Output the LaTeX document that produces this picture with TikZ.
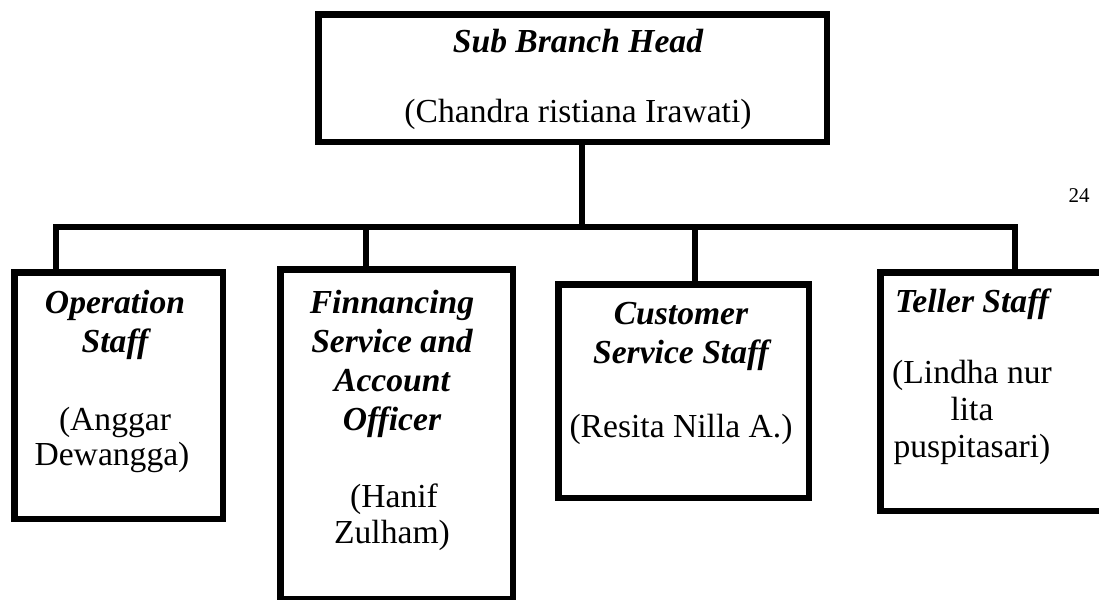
\documentclass[tikz,border=0pt]{standalone}
\usepackage{fontspec}
\setmainfont{Liberation Serif}
\begin{document}
\begin{tikzpicture}[x=1pt,y=-1pt,
  box/.style={draw=black, line width=6.5pt, rectangle, inner sep=0pt, anchor=north west},
  ttl/.style={font=\fontsize{33.6}{39}\selectfont\bfseries\itshape, anchor=base, inner sep=0pt},
  nm/.style={font=\fontsize{33.6}{39}\selectfont, anchor=base, inner sep=0pt},
  link/.style={draw=black, line width=6.5pt}]
\useasboundingbox (0,0) rectangle (1099,599);
\clip (0,0) rectangle (1099,599);
% boxes
\node[box, minimum width=508.5pt, minimum height=127.5pt] (top) at (315.25,11.25) {};
\node[box, minimum width=208.5pt, minimum height=246.5pt] (op) at (11.25,269.25) {};
\node[box, minimum width=232.5pt, minimum height=329.5pt] (fin) at (277.25,266.25) {};
\node[box, minimum width=250.5pt, minimum height=213.5pt] (cust) at (555.25,281.25) {};
\node[box, minimum width=240pt, minimum height=238.5pt] (tel) at (877.25,269.25) {};
% connectors
\coordinate (bus) at (582,227);
\coordinate (jop) at (56,227);
\coordinate (jfin) at (366,227);
\coordinate (jcust) at (695,227);
\coordinate (jtel) at (1015,227);
\draw[link] (top.south -| bus) -- (bus);
\draw[link] (op.north -| jop) -- (jop) -- (jtel) -- (tel.north -| jtel);
\draw[link] (jfin) -- (fin.north -| jfin);
\draw[link] (jcust) -- (cust.north -| jcust);
% texts
\node[ttl] (top1) at (578,53) {Sub Branch Head};
\node[nm] (top2) at (578,122) {(Chandra ristiana Irawati)};
\node[ttl] (op1) at (115,313) {Operation};
\node[ttl] (op2) at (115,352) {Staff};
\node[nm] (op3) at (115,430) {(Anggar};
\node[nm] (op4) at (112,465) {Dewangga)};
\node[ttl] (fin1) at (392,313) {Finnancing};
\node[ttl] (fin2) at (392,352) {Service and};
\node[ttl] (fin3) at (392,391) {Account};
\node[ttl] (fin4) at (392,430) {Officer};
\node[nm] (fin5) at (394,507) {(Hanif};
\node[nm] (fin6) at (392,543) {Zulham)};
\node[ttl] (cust1) at (681,324) {Customer};
\node[ttl] (cust2) at (681,363) {Service Staff};
\node[nm] (cust3) at (681,437) {(Resita Nilla A.)};
\node[ttl] (tel1) at (972,312) {Teller Staff};
\node[nm] (tel2) at (972,383) {(Lindha nur};
\node[nm] (tel3) at (972,420) {lita};
\node[nm] (tel4) at (972,457) {puspitasari)};
\node[font=\fontsize{21}{21}\selectfont, anchor=base, inner sep=0pt] (pg) at (1079,202) {24};
\end{tikzpicture}
\end{document}
